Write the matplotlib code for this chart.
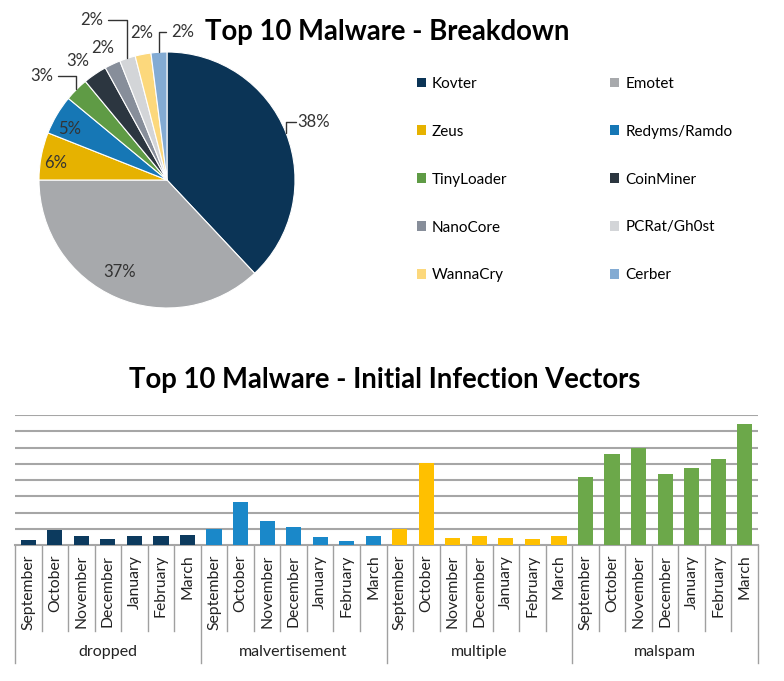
import numpy as np
import matplotlib
matplotlib.use('Agg')
import matplotlib.pyplot as plt
from matplotlib.patches import Patch
import matplotlib.transforms as mtransforms

plt.rcParams['font.family'] = ['Lato', 'DejaVu Sans']

# pie data
malware = ['Kovter', 'Emotet', 'Zeus', 'Redyms/Ramdo', 'TinyLoader',
           'CoinMiner', 'NanoCore', 'PCRat/Gh0st', 'WannaCry', 'Cerber']
share = [38, 37, 6, 5, 3, 3, 2, 2, 2, 2]
pie_colors = ['#0b3456', '#a7a9ac', '#e6b200', '#1677b5', '#5f9b45',
              '#2c3640', '#878e9a', '#d3d5d8', '#fcd87c', '#83abd3']

# bar data (per month, per vector)
months = ['September', 'October', 'November', 'December', 'January', 'February', 'March']
vectors = ['dropped', 'malvertisement', 'multiple', 'malspam']
dropped = [2.9, 9.5, 5.3, 3.9, 5.8, 5.3, 6.2]
malvertisement = [9.7, 26.5, 14.8, 11.1, 4.9, 2.5, 5.8]
multiple = [9.7, 50.2, 4.3, 5.3, 4.3, 3.7, 5.3]
malspam = [41.8, 55.8, 59.7, 43.8, 47.5, 52.7, 74.5]
bar_colors = ['#0c3a5e', '#1a88c9', '#ffc000', '#6ca84a']

W, H = 784, 681
fig = plt.figure(figsize=(W / 100, H / 100), dpi=100)

def px_axes(x0, y0, x1, y1):
    return fig.add_axes([x0 / W, 1 - y1 / H, (x1 - x0) / W, (y1 - y0) / H])

# ---- pie ----
ax = px_axes(39, 52, 295, 308)
wedges, _ = ax.pie(share, colors=pie_colors, startangle=90, counterclock=False,
                   radius=1, wedgeprops=dict(edgecolor='white', linewidth=0.8))
ax.set_xlim(-1, 1)
ax.set_ylim(-1, 1)
ax.set_aspect('equal')
ax.axis('off')

# label positions (in pie radius units) and whether there is a leader line
label_pos = [(1.02, 0.45), (-0.37, -0.72), (-0.87, 0.13), (-0.76, 0.40), (-0.98, 0.81),
             (-0.70, 0.93), (-0.50, 1.03), (-0.59, 1.25), (-0.20, 1.15), (0.12, 1.16)]
leader = [True, False, False, False, True, False, False, True, False, True]
ha_list = ['left', 'center', 'center', 'center', 'center', 'center', 'center',
           'center', 'center', 'center']
for w, s, (tx, ty), ld, ha in zip(wedges, share, label_pos, leader, ha_list):
    ang = np.deg2rad((w.theta1 + w.theta2) / 2)
    ex, ey = np.cos(ang), np.sin(ang)
    txt = '%d%%' % s
    if ld:
        if ha == 'left':
            xt = (tx - 0.01, ty)
        elif tx < ex:
            xt = (tx + 0.13, ty)
        else:
            xt = (tx - 0.13, ty)
        ax.annotate('', xy=(ex, ey), xytext=xt,
                    arrowprops=dict(arrowstyle='-', color='#333333', lw=1.0,
                                    shrinkA=0, shrinkB=0,
                                    connectionstyle='angle,angleA=0,angleB=90,rad=0'))
    ax.text(tx, ty, txt, ha=ha, va='center', fontsize=12, color='#333333')

fig.text(387 / W, 1 - 32 / H, 'Top 10 Malware - Breakdown', ha='center', va='center',
         fontsize=19.8, fontweight='bold', color='black')

# legend, filled row-wise
handles = [Patch(facecolor=c, edgecolor='none') for c in pie_colors]
order = list(range(0, 10, 2)) + list(range(1, 10, 2))
fig.legend([handles[i] for i in order], [malware[i] for i in order],
           loc='upper left', bbox_to_anchor=(403 / W, 1 - 63 / H), ncol=2,
           frameon=False, fontsize=11, handlelength=0.6, handleheight=0.6,
           handletextpad=0.4, labelspacing=2.22, columnspacing=6.7)

# ---- bars ----
fig.text(385 / W, 1 - 380 / H, 'Top 10 Malware - Initial Infection Vectors',
         ha='center', va='center', fontsize=19.8, fontweight='bold', color='black')

bx = px_axes(15, 415, 758, 545)
series = [dropped, malvertisement, multiple, malspam]
pos = 0
for vals, col in zip(series, bar_colors):
    x = np.arange(pos, pos + len(vals))
    bx.bar(x, vals, width=0.57, color=col, zorder=3)
    pos += len(vals)
n = pos
bx.set_xlim(-0.5, n - 0.5)
bx.set_ylim(0, 80)
bx.set_yticks(np.arange(10, 81, 10))
bx.yaxis.grid(True, color='#a6a6a6', linewidth=1.5, zorder=0)
bx.tick_params(axis='y', left=False, labelleft=False)
bx.set_xticks(np.arange(n))
bx.set_xticklabels(months * len(vectors), rotation=90, fontsize=11.3, color='#222222')
bx.tick_params(axis='x', length=0, pad=7)
for sp in ['top', 'right', 'left']:
    bx.spines[sp].set_visible(False)
bx.spines['bottom'].set_color('#a6a6a6')
bx.spines['bottom'].set_linewidth(1.5)

trans = mtransforms.blended_transform_factory(bx.transData, bx.transAxes)
for b in range(n + 1):
    xb = b - 0.5
    bottom = -0.91 if b % len(months) == 0 else -0.66
    bx.plot([xb, xb], [0, bottom], transform=trans, color='#a0a0a0', lw=1.0, clip_on=False)
for g, name in enumerate(vectors):
    mid = g * len(months) + (len(months) - 1) / 2
    bx.text(mid, -0.82, name, transform=trans, ha='center', va='center',
            fontsize=11.5, color='#222222')

fig.savefig('out.png', dpi=100)
